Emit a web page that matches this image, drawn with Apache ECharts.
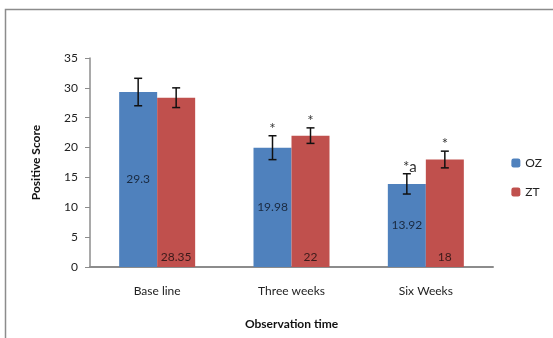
<!DOCTYPE html>
<html><head><meta charset="utf-8">
<script src="https://cdn.jsdelivr.net/npm/echarts@6/dist/echarts.min.js"></script>
<style>html,body{margin:0;padding:0;background:#fff}#c{width:553px;height:338px}</style>
</head><body><div id="c"></div>
<script>
var categories = ['Base line', 'Three weeks', 'Six Weeks'];
var ozValues = [29.3, 19.98, 13.92];
var ztValues = [28.35, 22, 18];
var ozErrors = [2.3, 2.0, 1.7];
var ztErrors = [1.65, 1.3, 1.4];
var ozMarks = ['', '*', '*a'];
var ztMarks = ['', '*', '*'];
var yTicks = [0, 5, 10, 15, 20, 25, 30, 35];

var FONT = 'Lato, "Open Sans", sans-serif';
var BAR_W = 38;

var errData = [];
for (var i = 0; i < categories.length; i++) {
  errData.push([i, ozValues[i], ozErrors[i], -1, ozMarks[i]]);
  errData.push([i, ztValues[i], ztErrors[i], 1, ztMarks[i]]);
}

var chart = echarts.init(document.getElementById('c'), null, {renderer: 'canvas'});
chart.setOption({
  animation: false,
  backgroundColor: '#fff',
  graphic: [{
    type: 'rect', silent: true, z: -10,
    shape: {x: 5.5, y: 9.5, width: 700, height: 500},
    style: {fill: 'none', stroke: '#8c8c8c', lineWidth: 1.5}
  }],
  grid: {left: 90, right: 60, top: 58, bottom: 71},
  legend: {
    orient: 'vertical', right: 6, top: 152,
    itemWidth: 9, itemHeight: 9, itemGap: 17,
    textStyle: {fontFamily: FONT, fontSize: 12, color: '#222'},
    data: ['OZ', 'ZT']
  },
  xAxis: {
    type: 'category', data: categories,
    name: 'Observation time', nameLocation: 'middle', nameGap: 51,
    nameTextStyle: {fontFamily: FONT, fontSize: 12, fontWeight: 'bold', color: '#111'},
    axisLine: {lineStyle: {color: '#8c8c8c', width: 2}},
    axisTick: {show: false},
    axisLabel: {fontFamily: FONT, fontSize: 12, color: '#222', margin: 18}
  },
  yAxis: {
    type: 'value', min: yTicks[0], max: yTicks[yTicks.length - 1], interval: 5,
    name: 'Positive Score', nameLocation: 'middle', nameGap: 48,
    nameTextStyle: {fontFamily: FONT, fontSize: 12, fontWeight: 'bold', color: '#111'},
    axisLine: {show: true, lineStyle: {color: '#8c8c8c', width: 1.5}},
    axisTick: {show: true, length: 5, lineStyle: {color: '#8c8c8c'}},
    axisLabel: {fontFamily: FONT, fontSize: 12, color: '#222', margin: 12},
    splitLine: {show: false}
  },
  series: [{
    name: 'OZ', type: 'bar', data: ozValues, barWidth: BAR_W, barGap: '0%',
    itemStyle: {color: '#4F81BD'},
    label: {show: true, position: 'inside', fontFamily: FONT, fontSize: 12, color: '#1a2a40'}
  }, {
    name: 'ZT', type: 'bar', data: ztValues, barWidth: BAR_W, barGap: '0%',
    itemStyle: {color: '#C0504D'},
    label: {show: true, position: 'insideBottom', distance: 4, fontFamily: FONT, fontSize: 12, color: '#3a1a1a'}
  }, {
    name: 'err', type: 'custom', data: errData, z: 10,
    renderItem: function (params, api) {
      var c = api.value(0), v = api.value(1), e = api.value(2), side = api.value(3);
      var mark = errData[params.dataIndex][4];
      var top = api.coord([c, v + e]);
      var bot = api.coord([c, v - e]);
      var x = top[0] + side * BAR_W / 2;
      var cap = 4;
      var children = [
        {type: 'line', shape: {x1: x, y1: top[1], x2: x, y2: bot[1]}, style: {stroke: '#111', lineWidth: 1.5}},
        {type: 'line', shape: {x1: x - cap, y1: top[1], x2: x + cap, y2: top[1]}, style: {stroke: '#111', lineWidth: 1.5}},
        {type: 'line', shape: {x1: x - cap, y1: bot[1], x2: x + cap, y2: bot[1]}, style: {stroke: '#111', lineWidth: 1.5}}
      ];
      if (mark) {
        children.push({type: 'text', style: {text: mark, x: x + (mark.length > 1 ? 3 : 0), y: top[1] + 1,
          align: 'center', verticalAlign: 'bottom', fontFamily: FONT, fontSize: 15, fill: '#333'}});
      }
      return {type: 'group', children: children};
    }
  }]
});
</script></body></html>
